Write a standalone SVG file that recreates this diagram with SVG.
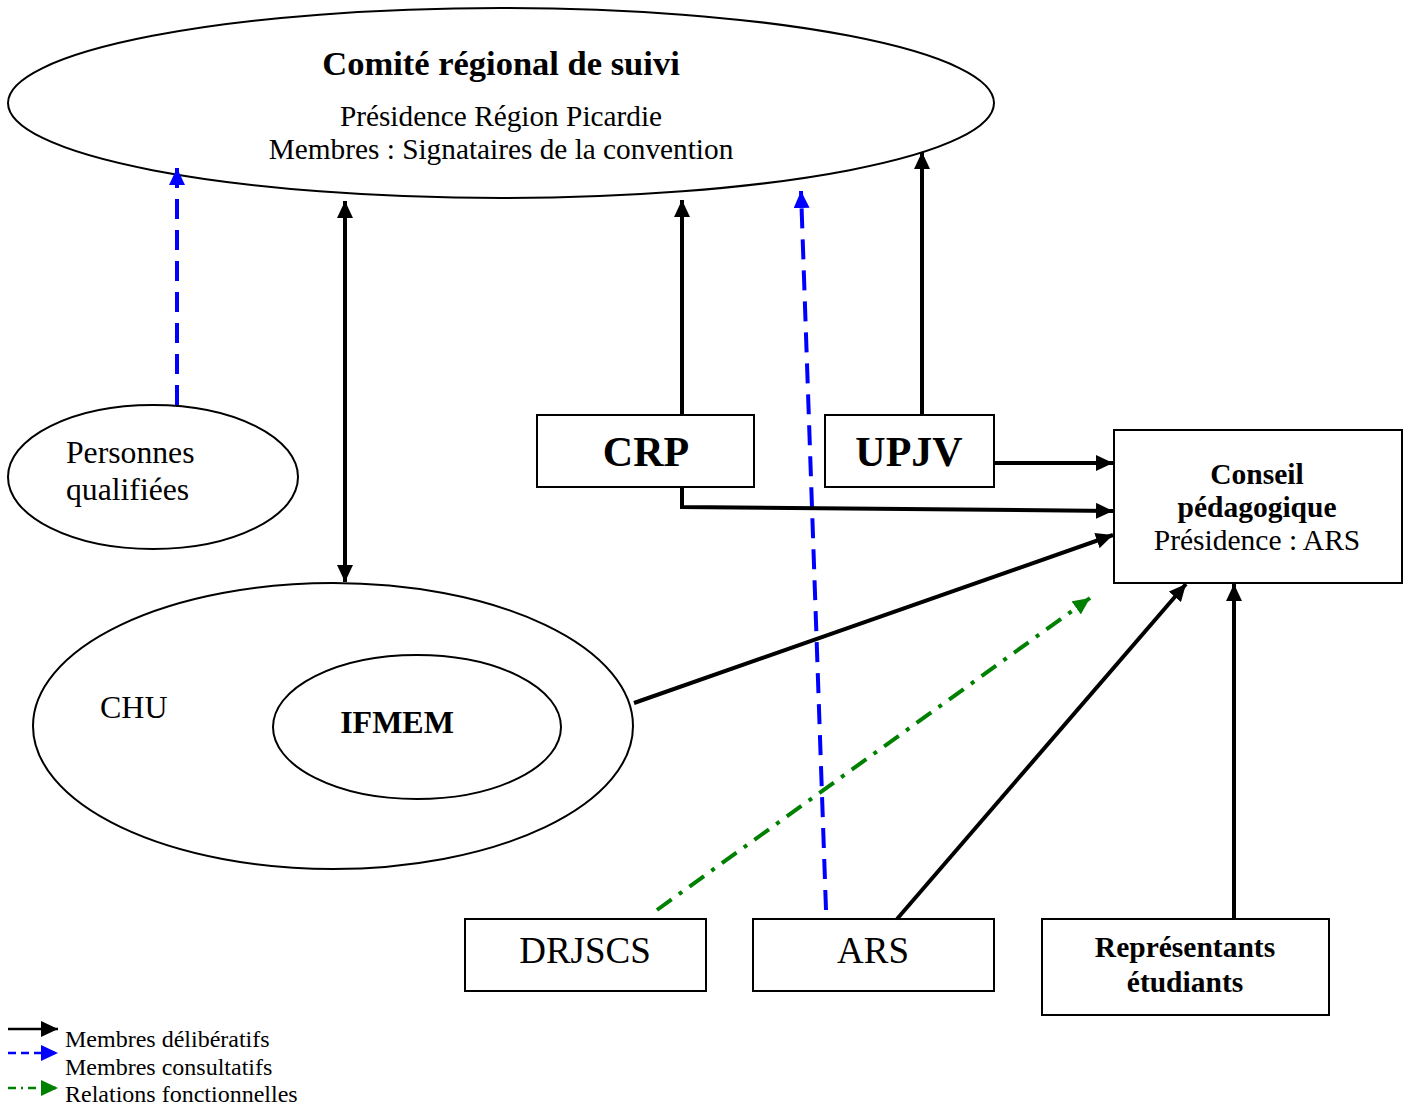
<svg xmlns="http://www.w3.org/2000/svg" width="1410" height="1108" viewBox="0 0 1410 1108">
<style>
text{font-family:"Liberation Serif","Times New Roman",serif;fill:#000}
.b{font-weight:bold}
.shape{fill:#fff;stroke:#000;stroke-width:2}
.k{stroke:#000;stroke-width:4;fill:none}
.bl{stroke:#0000ff;stroke-width:4;fill:none;stroke-dasharray:20 11}
.gr{stroke:#008000;stroke-width:4;fill:none;stroke-dasharray:18 9 4 9}
</style>
<defs>
<marker id="ak" markerUnits="userSpaceOnUse" markerWidth="18" markerHeight="16" refX="17" refY="8" orient="auto-start-reverse"><path d="M0,0 L17,8 L0,16 z" fill="#000"/></marker>
<marker id="ab" markerUnits="userSpaceOnUse" markerWidth="18" markerHeight="16" refX="17" refY="8" orient="auto"><path d="M0,0 L17,8 L0,16 z" fill="#0000ff"/></marker>
<marker id="ag" markerUnits="userSpaceOnUse" markerWidth="18" markerHeight="16" refX="17" refY="8" orient="auto"><path d="M0,0 L17,8 L0,16 z" fill="#008000"/></marker>
</defs>
<g id="comite">
<ellipse class="shape" cx="501" cy="103" rx="493" ry="95"/>
<text class="b" x="501" y="75" font-size="34.5" text-anchor="middle">Comité régional de suivi</text>
<text x="501" y="126" font-size="29.3" text-anchor="middle">Présidence Région Picardie</text>
<text x="501" y="159" font-size="29.3" text-anchor="middle">Membres : Signataires de la convention</text>
</g>
<g id="personnes">
<ellipse class="shape" cx="153" cy="477" rx="145" ry="72"/>
<text x="66" y="463" font-size="31.7">Personnes</text>
<text x="66" y="500" font-size="31.7">qualifiées</text>
</g>
<g id="chu">
<ellipse class="shape" cx="333" cy="726" rx="300" ry="143"/>
<text x="100" y="718" font-size="32">CHU</text>
</g>
<g id="ifmem">
<ellipse class="shape" cx="417" cy="727" rx="144" ry="72"/>
<text class="b" x="397" y="733" font-size="32" text-anchor="middle">IFMEM</text>
</g>
<g id="crp">
<rect class="shape" x="537" y="415" width="217" height="72"/>
<text class="b" x="646" y="466" font-size="42" text-anchor="middle">CRP</text>
</g>
<g id="upjv">
<rect class="shape" x="825" y="415" width="169" height="72"/>
<text class="b" x="909" y="466" font-size="42" text-anchor="middle">UPJV</text>
</g>
<g id="conseil">
<rect class="shape" x="1114" y="430" width="288" height="153"/>
<text class="b" x="1257" y="484" font-size="29.5" text-anchor="middle">Conseil</text>
<text class="b" x="1257" y="517" font-size="29.5" text-anchor="middle">pédagogique</text>
<text x="1257" y="550" font-size="29.5" text-anchor="middle">Présidence : ARS</text>
</g>
<g id="drjscs">
<rect class="shape" x="465" y="919" width="241" height="72"/>
<text x="585" y="963" font-size="37" text-anchor="middle">DRJSCS</text>
</g>
<g id="ars">
<rect class="shape" x="753" y="919" width="241" height="72"/>
<text x="873" y="963" font-size="37" text-anchor="middle">ARS</text>
</g>
<g id="representants">
<rect class="shape" x="1042" y="919" width="287" height="96"/>
<text class="b" x="1185" y="957" font-size="29.5" text-anchor="middle">Représentants</text>
<text class="b" x="1185" y="992" font-size="29.5" text-anchor="middle">étudiants</text>
</g>
<g id="connectors">
<line class="bl" x1="177" y1="405" x2="177" y2="168" marker-end="url(#ab)"/>
<line class="k" x1="345" y1="201" x2="345" y2="582" marker-start="url(#ak)" marker-end="url(#ak)"/>
<line class="k" x1="682" y1="415" x2="682" y2="200" marker-end="url(#ak)"/>
<line class="k" x1="922" y1="415" x2="922" y2="152" marker-end="url(#ak)"/>
<line class="bl" x1="826" y1="910" x2="801" y2="191" marker-end="url(#ab)"/>
<line class="k" x1="995" y1="463" x2="1113" y2="463" marker-end="url(#ak)"/>
<polyline class="k" points="682,487 682,507 1113,511" marker-end="url(#ak)"/>
<line class="k" x1="634" y1="703" x2="1113" y2="535" marker-end="url(#ak)"/>
<line class="gr" x1="657" y1="910" x2="1090" y2="598" marker-end="url(#ag)"/>
<line class="k" x1="897" y1="919" x2="1186" y2="584" marker-end="url(#ak)"/>
<line class="k" x1="1234" y1="919" x2="1234" y2="584" marker-end="url(#ak)"/>
</g>
<g id="legend">
<line x1="8" y1="1029" x2="58" y2="1029" stroke="#000" stroke-width="2.5" marker-end="url(#ak)"/>
<line x1="8" y1="1053" x2="58" y2="1053" stroke="#0000ff" stroke-width="2.5" stroke-dasharray="8 5" marker-end="url(#ab)"/>
<line x1="8" y1="1088" x2="58" y2="1088" stroke="#008000" stroke-width="2.5" stroke-dasharray="8 5 2 5" marker-end="url(#ag)"/>
<text x="65" y="1047" font-size="24">Membres délibératifs</text>
<text x="65" y="1075" font-size="24">Membres consultatifs</text>
<text x="65" y="1102" font-size="24">Relations fonctionnelles</text>
</g>
</svg>
